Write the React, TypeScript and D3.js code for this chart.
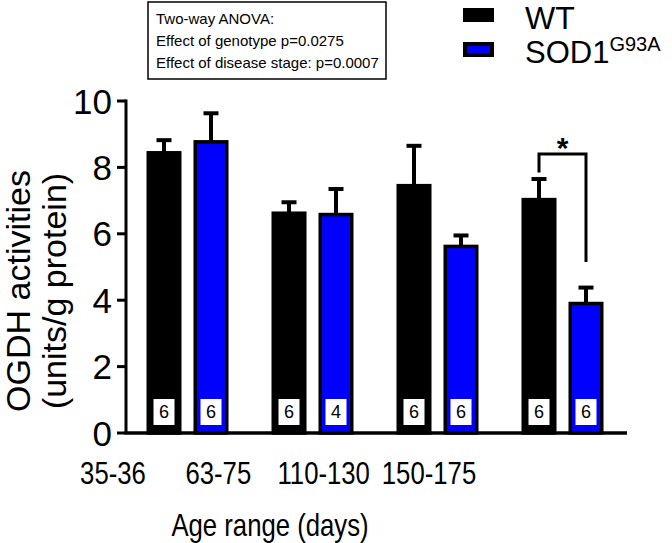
import React from "react";
import * as d3 from "d3";

const ageGroups: string[] = ["35-36", "63-75", "110-130", "150-175"];
const seriesKeys: string[] = ["WT", "SOD1"];
const wtMeans: number[] = [8.44, 6.62, 7.45, 7.03];
const wtErrors: number[] = [0.38, 0.33, 1.2, 0.62];
const sodMeans: number[] = [8.77, 6.58, 5.62, 3.9];
const sodErrors: number[] = [0.86, 0.77, 0.33, 0.48];
const wtN: number[] = [6, 6, 6, 6];
const sodN: number[] = [6, 4, 6, 6];
const yTicks: number[] = [0, 2, 4, 6, 8, 10];
const anovaLines: string[] = [
  "Two-way ANOVA:",
  "Effect of genotype p=0.0275",
  "Effect of disease stage: p=0.0007",
];
// significance bracket (data units) for group index 3
const sigGroup = 3;
const sigTop = 8.4;
const sigLeftEnd = 7.85;
const sigRightEnd = 5.15;

const FONT = "'Liberation Sans', Arial, Helvetica, sans-serif";
const colors: Record<string, string> = { WT: "#000000", SOD1: "#0000ff" };

export default function App() {
  const W = 672;
  const H = 543;
  const y = d3.scaleLinear().domain([0, 10]).range([433, 101]);
  const x0 = d3.scaleBand<string>().domain(ageGroups).range([125, 625]).paddingInner(0).paddingOuter(0);
  const x1 = d3
    .scaleBand<string>()
    .domain(seriesKeys)
    .range([0, x0.bandwidth()])
    .paddingInner(0.255)
    .paddingOuter(0.4575);
  const bw = x1.bandwidth();
  // category labels are typeset on their own (shifted) grid in the reference
  const xLabel = d3.scalePoint<string>().domain(ageGroups).range([113, 429]);

  const data = ageGroups.map((g, i) => ({
    group: g,
    items: [
      { key: "WT", mean: wtMeans[i], err: wtErrors[i], n: wtN[i] },
      { key: "SOD1", mean: sodMeans[i], err: sodErrors[i], n: sodN[i] },
    ],
  }));

  const axisLeftX = 126;
  const axisRight = 627;

  const sigG = ageGroups[sigGroup];
  const sigLx = (x0(sigG) as number) + (x1("WT") as number) + bw / 2;
  const sigRx = (x0(sigG) as number) + (x1("SOD1") as number) + bw / 2;
  const bracketPath = d3.path();
  bracketPath.moveTo(sigLx, y(sigLeftEnd));
  bracketPath.lineTo(sigLx, y(sigTop));
  bracketPath.lineTo(sigRx, y(sigTop));
  bracketPath.lineTo(sigRx, y(sigRightEnd));

  return (
    <svg
      width={W}
      height={H}
      style={{ position: "absolute", left: 0, top: 0, background: "#fff" }}
      fontFamily={FONT}
    >
      {/* ANOVA box */}
      <rect x={148} y={2} width={238} height={77} fill="#fff" stroke="#000" strokeWidth={1.5} />
      {anovaLines.map((t, i) => (
        <text key={i} x={156} y={24 + i * 22} fontSize={15} fill="#000">
          {t}
        </text>
      ))}

      {/* Legend */}
      <rect x={465} y={10} width={27} height={10} fill={colors.WT} stroke="#000" strokeWidth={4} />
      <text x={525} y={29} fontSize={32} fill="#000">WT</text>
      <rect x={465} y={44} width={27} height={11} fill={colors.SOD1} stroke="#000" strokeWidth={4} />
      <text x={525} y={63} fontSize={31} fill="#000">
        SOD1
        <tspan fontSize={20} dy={-12}>G93A</tspan>
      </text>

      {/* Bars */}
      {data.map((d) => (
        <g key={d.group} transform={`translate(${x0(d.group)},0)`}>
          {d.items.map((it) => {
            const bx = x1(it.key) as number;
            const cx = bx + bw / 2;
            return (
              <g key={it.key}>
                <line x1={cx} x2={cx} y1={y(it.mean)} y2={y(it.mean + it.err)} stroke="#000" strokeWidth={4} />
                <line x1={cx - 7.5} x2={cx + 7.5} y1={y(it.mean + it.err)} y2={y(it.mean + it.err)} stroke="#000" strokeWidth={4} />
                <rect
                  x={bx + 1.75}
                  y={y(it.mean)}
                  width={bw - 3.5}
                  height={y(0) - y(it.mean)}
                  fill={colors[it.key]}
                  stroke="#000"
                  strokeWidth={3.5}
                />
                <rect x={cx - 10.5} y={399} width={21} height={26} fill="#fff" />
                <text x={cx} y={418} fontSize={18} textAnchor="middle" fill="#000">
                  {it.n}
                </text>
              </g>
            );
          })}
        </g>
      ))}

      {/* Significance bracket */}
      <path d={bracketPath.toString()} fill="none" stroke="#000" strokeWidth={3} />
      <text x={(sigLx + sigRx) / 2} y={158} fontSize={30} fontWeight="bold" textAnchor="middle" fill="#000">
        *
      </text>

      {/* Y axis */}
      <line x1={axisLeftX} x2={axisLeftX} y1={y(10) - 1.5} y2={y(0)} stroke="#000" strokeWidth={3} />
      {yTicks.map((t) => (
        <g key={t}>
          <line x1={117} x2={axisLeftX} y1={y(t)} y2={y(t)} stroke="#000" strokeWidth={3} />
          <text x={112} y={y(t)} dy="0.36em" fontSize={35} textAnchor="end" fill="#000">
            {t}
          </text>
        </g>
      ))}

      {/* X axis */}
      <line x1={axisLeftX - 1.5} x2={axisRight} y1={y(0)} y2={y(0)} stroke="#000" strokeWidth={3.5} />
      {ageGroups.map((g) => (
        <g key={g} transform={`translate(${xLabel(g)},484) scale(0.83,1)`}>
          <text x={0} y={0} fontSize={31} textAnchor="middle" fill="#000">
            {g}
          </text>
        </g>
      ))}
      <g transform={`translate(270,536) scale(0.83,1)`}>
        <text x={0} y={0} fontSize={31} textAnchor="middle" fill="#000">
          Age range (days)
        </text>
      </g>

      {/* Y axis title */}
      <g transform={`translate(30,291) rotate(-90)`}>
        <text x={0} y={0} fontSize={34} textAnchor="middle" fill="#000">
          OGDH activities
        </text>
      </g>
      <g transform={`translate(66,291) rotate(-90)`}>
        <text x={0} y={0} fontSize={34} textAnchor="middle" fill="#000">
          (units/g protein)
        </text>
      </g>
    </svg>
  );
}
